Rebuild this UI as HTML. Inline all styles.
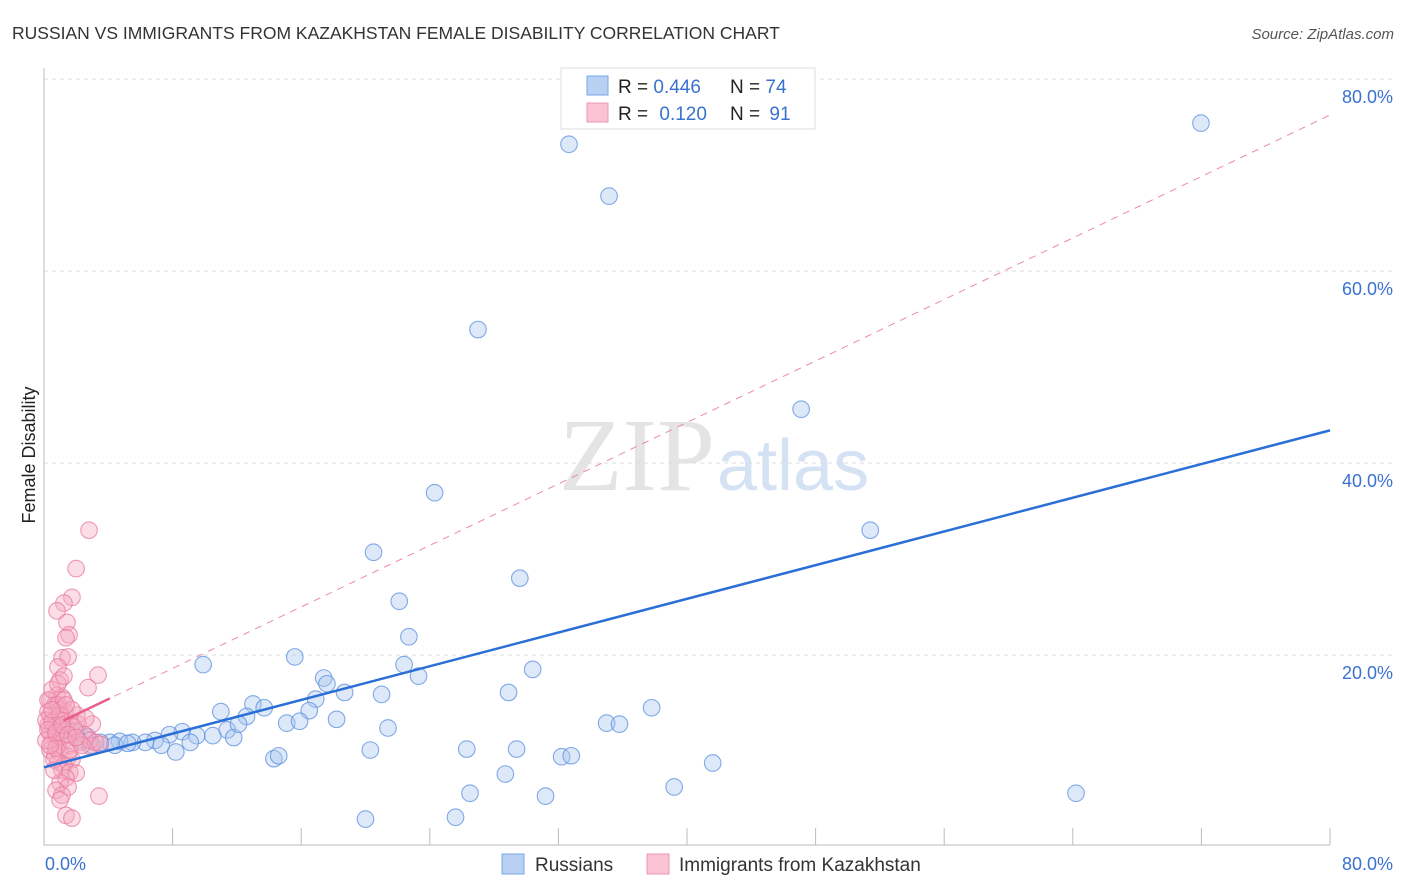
<!DOCTYPE html>
<html><head><meta charset="utf-8">
<style>
body{margin:0;background:#fff;font-family:"Liberation Sans",sans-serif;}
#wrap{position:relative;width:1406px;height:892px;overflow:hidden;}
</style></head>
<body>
<div id="wrap">
<svg id="chart" width="1406" height="892" style="position:absolute;left:0;top:0">
  <text x="12" y="39" font-size="17.5" fill="#333">RUSSIAN VS IMMIGRANTS FROM KAZAKHSTAN FEMALE DISABILITY CORRELATION CHART</text>
  <text x="1394" y="39" font-size="15" fill="#555" font-style="italic" text-anchor="end">Source: ZipAtlas.com</text>
  <text x="35" y="455" font-size="18" fill="#222" text-anchor="middle" transform="rotate(-90 35 455)">Female Disability</text>
  <text x="715" y="490" font-size="104" fill="#e4e4e4" text-anchor="end" font-family="Liberation Serif,serif">ZIP</text>
  <text x="717" y="490" font-size="72" fill="#d4e2f4">atlas</text>
  <g id="grid"></g>
  <g id="axes"></g>
  <g id="lines"></g>
  <g id="points"></g>
  <g>
    <rect x="561" y="68" width="254" height="61" fill="#fff" stroke="#ddd"/>
    <rect x="587" y="76" width="21" height="19" fill="#b8d1f3" stroke="#7aa6e6"/>
    <rect x="587" y="103" width="21" height="19" fill="#f9c3d3" stroke="#ee9ab5"/>
    <text x="618" y="93" font-size="19" fill="#222">R = <tspan fill="#3a72d0">0.446</tspan></text>
    <text x="730" y="93" font-size="19" fill="#222">N = <tspan fill="#3a72d0">74</tspan></text>
    <text x="618" y="120" font-size="19" fill="#222">R = <tspan fill="#3a72d0" dx="6">0.120</tspan></text>
    <text x="730" y="120" font-size="19" fill="#222">N = <tspan fill="#3a72d0" dx="4">91</tspan></text>
  </g>
  <g>
    <rect x="502" y="854" width="22" height="20" fill="#b8d1f3" stroke="#7aa6e6"/>
    <text x="535" y="871" font-size="19" fill="#333">Russians</text>
    <rect x="647" y="854" width="22" height="20" fill="#f9c3d3" stroke="#ee9ab5"/>
    <text x="679" y="871" font-size="19" fill="#333">Immigrants from Kazakhstan</text>
  </g>
</svg>
</div>
<script>
const yTicks=[20,40,60,80];
const yTickLabels=["20.0%","40.0%","60.0%","80.0%"];
const xTicks=[8,16,24,32,40,48,56,64,72,80];
const xEndLabels=["0.0%","80.0%"];
const russiansX=[71.97,32.66,35.15,27.0,47.1,24.3,51.4,20.5,29.6,22.1,22.7,9.9,15.6,30.4,22.4,23.3,17.4,17.6,18.7,16.9,21.0,28.9,11.0,13.0,13.7,12.6,16.5,37.8,18.2,15.1,15.9,35.0,35.8,8.6,9.5,10.5,11.4,11.8,12.1,21.4,20.3,26.3,29.4,32.2,32.8,14.3,14.6,41.6,28.7,39.2,26.5,31.2,64.2,20.0,25.6,7.8,6.9,7.3,6.3,5.5,4.7,4.1,3.5,2.7,2.0,1.4,1.0,2.2,3.0,4.4,5.2,8.2,9.1,0.8];
const russiansY=[75.4,73.2,67.8,53.9,45.6,36.9,33.0,30.7,28.0,25.6,21.9,19.0,19.8,18.5,19.0,17.8,17.6,17.0,16.1,15.4,15.9,16.1,14.1,14.9,14.5,13.6,14.2,14.5,13.3,12.9,13.1,12.9,12.8,12.0,11.6,11.6,12.2,11.4,12.8,12.4,10.1,10.2,10.2,9.4,9.5,9.2,9.5,8.75,7.6,6.25,5.6,5.3,5.6,2.9,3.1,11.7,11.1,10.6,10.9,10.9,11.0,10.9,10.9,11.5,12.0,12.2,11.8,11.1,10.6,10.6,10.8,9.9,10.9,12.6];
const kazX=[2.8,2.0,1.74,1.24,0.81,1.43,1.56,1.37,1.12,1.5,0.87,3.36,2.74,1.0,0.81,1.12,0.37,0.68,1.0,1.3,0.37,0.75,1.12,1.5,0.25,0.62,1.0,1.37,1.74,3.0,2.05,0.37,0.75,1.12,0.5,0.87,1.24,1.6,2.24,2.86,0.37,0.68,1.0,1.5,1.74,0.87,1.24,1.12,1.6,2.0,1.37,1.0,1.5,0.75,1.12,3.42,1.0,1.37,1.74,0.25,0.12,0.12,0.25,0.5,0.62,0.87,1.24,1.74,2.1,2.5,2.86,3.2,3.5,0.5,0.25,0.75,1.6,0.62,1.0,1.37,1.87,2.36,2.6,0.87,1.24,0.5,0.37,0.75,1.12,1.5,2.0];
const kazY=[33.0,29.0,26.0,25.4,24.6,23.4,22.1,21.8,19.7,19.8,18.75,17.9,16.6,17.4,15.8,15.6,15.3,14.8,14.3,14.1,13.75,13.4,13.2,13.0,12.7,12.5,12.4,12.2,12.0,12.8,13.75,11.9,11.6,11.4,10.9,10.6,11.1,10.6,10.9,10.5,10.1,9.6,9.8,9.4,9.1,8.85,8.5,8.0,7.8,7.7,7.2,6.7,6.25,5.9,5.4,5.3,4.9,3.3,3.0,14.1,13.2,11.1,15.3,16.4,9.1,14.8,15.3,14.3,12.8,11.7,11.1,10.9,10.7,13.0,12.2,10.3,10.1,8.0,13.75,14.8,12.5,10.6,13.4,17.0,17.8,14.3,10.6,11.9,12.7,11.7,11.4];
const russiansTrend=[8.3,43.4];
const kazTrend=[12.2,76.25];
const kazSolidRange=[1.2,4.1];

const NS="http://www.w3.org/2000/svg";
const X0=44,X1=1330,Y0=847,Y80=79;
function sx(v){return X0+(X1-X0)*v/80;}
function sy(v){return Y0-(Y0-Y80)*v/80;}
function mk(tag,attrs,parent){const e=document.createElementNS(NS,tag);for(const k in attrs)e.setAttribute(k,attrs[k]);parent.appendChild(e);return e;}
const grid=document.getElementById('grid'),axes=document.getElementById('axes'),lines=document.getElementById('lines'),pts=document.getElementById('points');
yTicks.forEach((t,i)=>{
  const g=mk('line',{x1:X0,x2:1394,y1:sy(t),y2:sy(t),stroke:'#ddd','stroke-dasharray':'4,4'},grid);
  
  
  const tx=mk('text',{x:1393,y:sy(t)+24,'font-size':18,fill:'#3a72d0','text-anchor':'end'},axes);
  tx.textContent=yTickLabels[i];
  
  
});
const ax=mk('path',{d:`M${X0} 68 V845 H${X1}`,stroke:'#bbb',fill:'none'},axes);


xTicks.forEach(t=>{
  const tk=mk('line',{x1:sx(t),x2:sx(t),y1:828,y2:845,stroke:'#bbb'},axes);
  
  
});
const xl0=mk('text',{x:45,y:870,'font-size':18,fill:'#3a72d0'},axes);xl0.textContent=xEndLabels[0];


const xl1=mk('text',{x:1393,y:870,'font-size':18,fill:'#3a72d0','text-anchor':'end'},axes);xl1.textContent=xEndLabels[1];



function drawPts(xs,ys,fill,stroke,name){
  xs.forEach((x,i)=>{
    const c=mk('circle',{cx:sx(x),cy:sy(ys[i]),r:8.3,fill:fill,'fill-opacity':0.4,stroke:stroke,'stroke-width':1.1,'stroke-opacity':0.75},pts);
    
    
  });
}
drawPts(russiansX,russiansY,'#a9c6ee','#5b8fdf','russians-point');
drawPts(kazX,kazY,'#f5a9c0','#e8799f','kazakhstan-point');

const kd=mk('line',{x1:sx(0),y1:sy(kazTrend[0]),x2:sx(80),y2:sy(kazTrend[1]),stroke:'#eb8aa8','stroke-width':1,'stroke-dasharray':'7,6'},lines);


const kf=v=>kazTrend[0]+(kazTrend[1]-kazTrend[0])*v/80;
const ks=mk('line',{x1:sx(kazSolidRange[0]),y1:sy(kf(kazSolidRange[0])),x2:sx(kazSolidRange[1]),y2:sy(kf(kazSolidRange[1])),stroke:'#e8608a','stroke-width':2.5},pts);


const rl=mk('line',{x1:sx(0),y1:sy(russiansTrend[0]),x2:sx(80),y2:sy(russiansTrend[1]),stroke:'#2a6fd6','stroke-width':2.5},pts);


</script>
</body></html>
